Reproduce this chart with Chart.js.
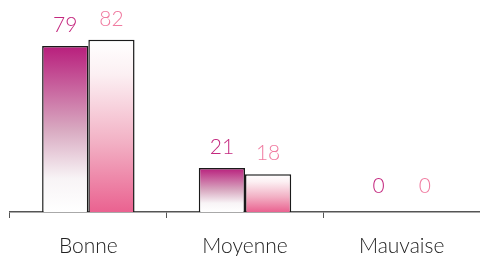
<!DOCTYPE html>
<html>
<head>
<meta charset="utf-8">
<script src="https://cdn.jsdelivr.net/npm/chart.js@4/dist/chart.umd.min.js"></script>
<style>
  html, body { margin: 0; padding: 0; background: #fff; }
  #wrap { width: 480px; height: 256px; }
</style>
</head>
<body>
<div id="wrap"><canvas id="graph"></canvas></div>
<script>
var categories = ["Bonne", "Moyenne", "Mauvaise"];
var series1 = [79, 21, 0];
var series2 = [82, 18, 0];
var labelColors = ["#c4287f", "#f07ba0"];

function barGradient(context, stops) {
  var chart = context.chart;
  if (!chart.chartArea || context.type !== "data") return stops[0][1];
  var y = chart.scales.y;
  var top = y.getPixelForValue(context.raw);
  var base = y.getPixelForValue(0);
  if (base - top < 1) return stops[0][1];
  var g = chart.ctx.createLinearGradient(0, top, 0, base);
  stops.forEach(function (s) { g.addColorStop(s[0], s[1]); });
  return g;
}

var valueLabels = {
  id: "valueLabels",
  afterDatasetsDraw: function (chart) {
    var ctx = chart.ctx;
    ctx.save();
    ctx.font = "300 21px Lato";
    ctx.textAlign = "center";
    ctx.textBaseline = "middle";
    chart.data.datasets.forEach(function (ds, i) {
      chart.getDatasetMeta(i).data.forEach(function (bar, j) {
        ctx.fillStyle = labelColors[i];
        var off = ds.data[j] === 0 ? 26 : 21;
        ctx.fillText(String(ds.data[j]), bar.x, bar.y - off);
      });
    });
    ctx.restore();
  }
};

var config = {
  type: "bar",
  data: {
    labels: categories,
    datasets: [{
      data: series1,
      backgroundColor: function (c) {
        return barGradient(c, [[0, "#b81e7c"], [0.5, "#d8a8c0"], [0.8, "#f8f4f6"], [1, "#ffffff"]]);
      },
      borderColor: "#1a1a1a",
      borderWidth: 1.5
    }, {
      data: series2,
      backgroundColor: function (c) {
        return barGradient(c, [[0, "#ffffff"], [0.2, "#fcf0f3"], [0.6, "#f2b0c4"], [1, "#ea6290"]]);
      },
      borderColor: "#1a1a1a",
      borderWidth: 1.5
    }]
  },
  options: {
    responsive: true,
    maintainAspectRatio: false,
    animation: false,
    layout: { padding: { top: 2, left: 10, right: 0, bottom: 0 } },
    datasets: { bar: { categoryPercentage: 0.59, barPercentage: 1.0 } },
    plugins: { legend: { display: false }, tooltip: { enabled: false } },
    scales: {
      x: {
        afterFit: function (scale) { scale.height = 44; },
        grid: { drawOnChartArea: false, tickLength: 6, color: "#555", offset: true },
        border: { color: "#555", width: 1.5 },
        ticks: { color: "#222", font: { family: "Lato", size: 21, weight: "300" }, padding: 16 }
      },
      y: { display: false, min: 0, max: 100 }
    }
  },
  plugins: [valueLabels]
};
new Chart(document.getElementById("graph"), config);
</script>
</body>
</html>
